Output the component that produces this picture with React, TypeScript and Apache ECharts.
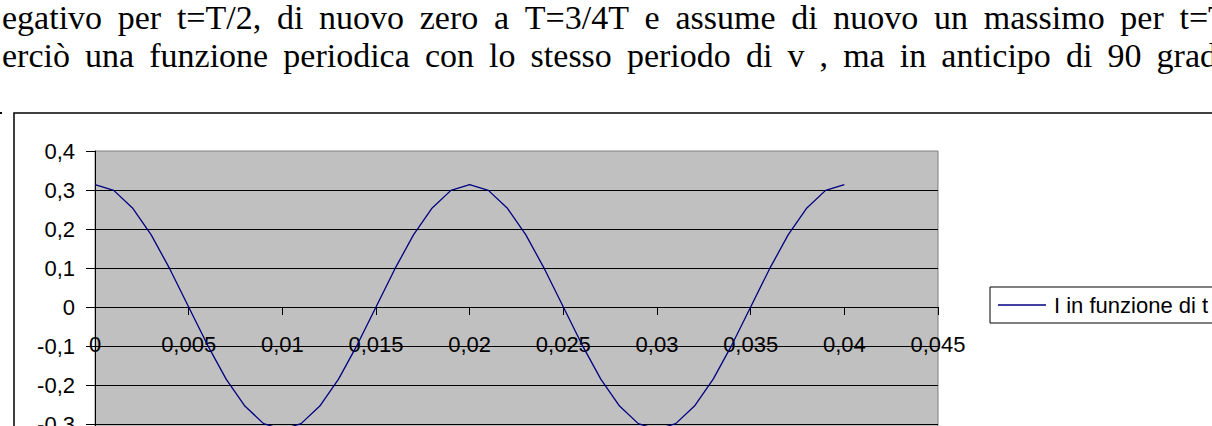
import React, { useEffect, useRef } from "react";
import * as echarts from "echarts";

const paragraphLines = [
  "egativo per t=T/2, di nuovo zero a T=3/4T e assume di nuovo un massimo per t=T",
  "erciò una funzione periodica con lo stesso periodo di v , ma in anticipo di 90 grad",
];

const seriesName = "I in funzione di t";

const tValues = [
  0, 0.001, 0.002, 0.003, 0.004, 0.005, 0.006, 0.007, 0.008, 0.009, 0.01,
  0.011, 0.012, 0.013, 0.014, 0.015, 0.016, 0.017, 0.018, 0.019, 0.02,
  0.021, 0.022, 0.023, 0.024, 0.025, 0.026, 0.027, 0.028, 0.029, 0.03,
  0.031, 0.032, 0.033, 0.034, 0.035, 0.036, 0.037, 0.038, 0.039, 0.04,
];

const iValues = [
  0.314, 0.299, 0.254, 0.185, 0.097, 0, -0.097, -0.185, -0.254, -0.299, -0.314,
  -0.299, -0.254, -0.185, -0.097, 0, 0.097, 0.185, 0.254, 0.299, 0.314,
  0.299, 0.254, 0.185, 0.097, 0, -0.097, -0.185, -0.254, -0.299, -0.314,
  -0.299, -0.254, -0.185, -0.097, 0, 0.097, 0.185, 0.254, 0.299, 0.314,
];

const xTickLabels = [
  "0", "0,005", "0,01", "0,015", "0,02", "0,025", "0,03", "0,035", "0,04", "0,045",
];
const yTickLabels = ["-0,4", "-0,3", "-0,2", "-0,1", "0", "0,1", "0,2", "0,3", "0,4"];

const SERIF = "Liberation Serif";
const SANS = "Liberation Sans";
const PARA_FONT = 34;

// Lay out a justified line of words (word spacing widened like the original document).
function justifiedWords(line: string, baseline: number, extraSpace: number) {
  const canvas = document.createElement("canvas");
  const ctx = canvas.getContext("2d");
  const font = `${PARA_FONT}px "${SERIF}"`;
  if (ctx) ctx.font = font;
  const measure = (s: string) => (ctx ? ctx.measureText(s).width : s.length * PARA_FONT * 0.45);
  const spaceW = measure(" ") + extraSpace;
  const words = line.split(" ");
  const out: any[] = [];
  let x = 2;
  const centerY = baseline - PARA_FONT * 0.3375;
  for (const w of words) {
    out.push({
      type: "text",
      x,
      y: centerY,
      z: 10,
      style: {
        text: w,
        fontFamily: SERIF,
        fontSize: PARA_FONT,
        fill: "#000",
        verticalAlign: "middle",
        align: "left",
      },
    });
    x += measure(w) + spaceW;
  }
  return out;
}

export default function App() {
  const ref = useRef<HTMLDivElement>(null);

  useEffect(() => {
    if (!ref.current) return;
    const chart = echarts.init(ref.current, null, { renderer: "svg" });
    chart.setOption({
      animation: false,
      backgroundColor: "#ffffff",
      graphic: [
        ...justifiedWords(paragraphLines[0], 29, 7.2),
        ...justifiedWords(paragraphLines[1], 67, 6.6),
        {
          type: "rect",
          shape: { x: 14, y: 113, width: 1400, height: 500 },
          z: -10,
          style: { fill: "none", stroke: "#000", lineWidth: 1.5 },
        },
        {
          type: "rect",
          shape: { x: 0, y: 112, width: 2, height: 2 },
          z: -10,
          style: { fill: "#000" },
        },
      ],
      legend: {
        show: true,
        left: 990,
        top: 287,
        orient: "horizontal",
        backgroundColor: "#fff",
        borderColor: "#000",
        borderWidth: 1,
        borderRadius: 0,
        padding: [7, 30, 7, 8],
        itemWidth: 48,
        itemHeight: 1.5,
        data: [{ name: seriesName, icon: "rect" }],
        itemStyle: { color: "#000080" },
        textStyle: {
          fontFamily: SANS,
          fontSize: 22,
          color: "#000",
          padding: [0, 0, 0, 3],
        },
      },
      grid: {
        show: true,
        left: 95,
        top: 151,
        width: 843,
        height: 312,
        backgroundColor: "#C0C0C0",
        borderColor: "#808080",
        borderWidth: 1,
        outerBoundsMode: "none",
        containLabel: false,
      },
      xAxis: {
        type: "value",
        min: 0,
        max: 0.045,
        interval: 0.005,
        position: "bottom",
        offset: -156,
        axisLine: { show: true, onZero: false, lineStyle: { color: "#000", width: 1 } },
        axisTick: { show: true, inside: false, length: 8, lineStyle: { color: "#000", width: 1 } },
        splitLine: { show: false },
        axisLabel: {
          margin: 26,
          fontFamily: SANS,
          fontSize: 22,
          color: "#000",
          showMinLabel: true,
          showMaxLabel: true,
          formatter: (v: number) => xTickLabels[Math.round(v / 0.005)] ?? "",
        },
      },
      yAxis: {
        type: "value",
        min: -0.4,
        max: 0.4,
        interval: 0.1,
        axisLine: { show: true, onZero: false, lineStyle: { color: "#000", width: 1 } },
        axisTick: { show: true, inside: false, length: 9, lineStyle: { color: "#000", width: 1 } },
        splitLine: {
          show: true,
          showMaxLine: false,
          lineStyle: { color: "#000", width: 1 },
        },
        axisLabel: {
          margin: 20,
          fontFamily: SANS,
          fontSize: 22,
          color: "#000",
          formatter: (v: number) => yTickLabels[Math.round((v + 0.4) / 0.1)] ?? "",
        },
      },
      series: [
        {
          name: seriesName,
          type: "line",
          data: tValues.map((t, i) => [t, iValues[i]]),
          symbol: "none",
          smooth: false,
          lineStyle: { color: "#000080", width: 1.3 },
          itemStyle: { color: "#000080" },
          z: 5,
        },
      ],
    });
    return () => chart.dispose();
  }, []);

  return (
    <div
      ref={ref}
      style={{ position: "fixed", left: 0, top: 0, width: 1212, height: 426, background: "#fff" }}
    />
  );
}
